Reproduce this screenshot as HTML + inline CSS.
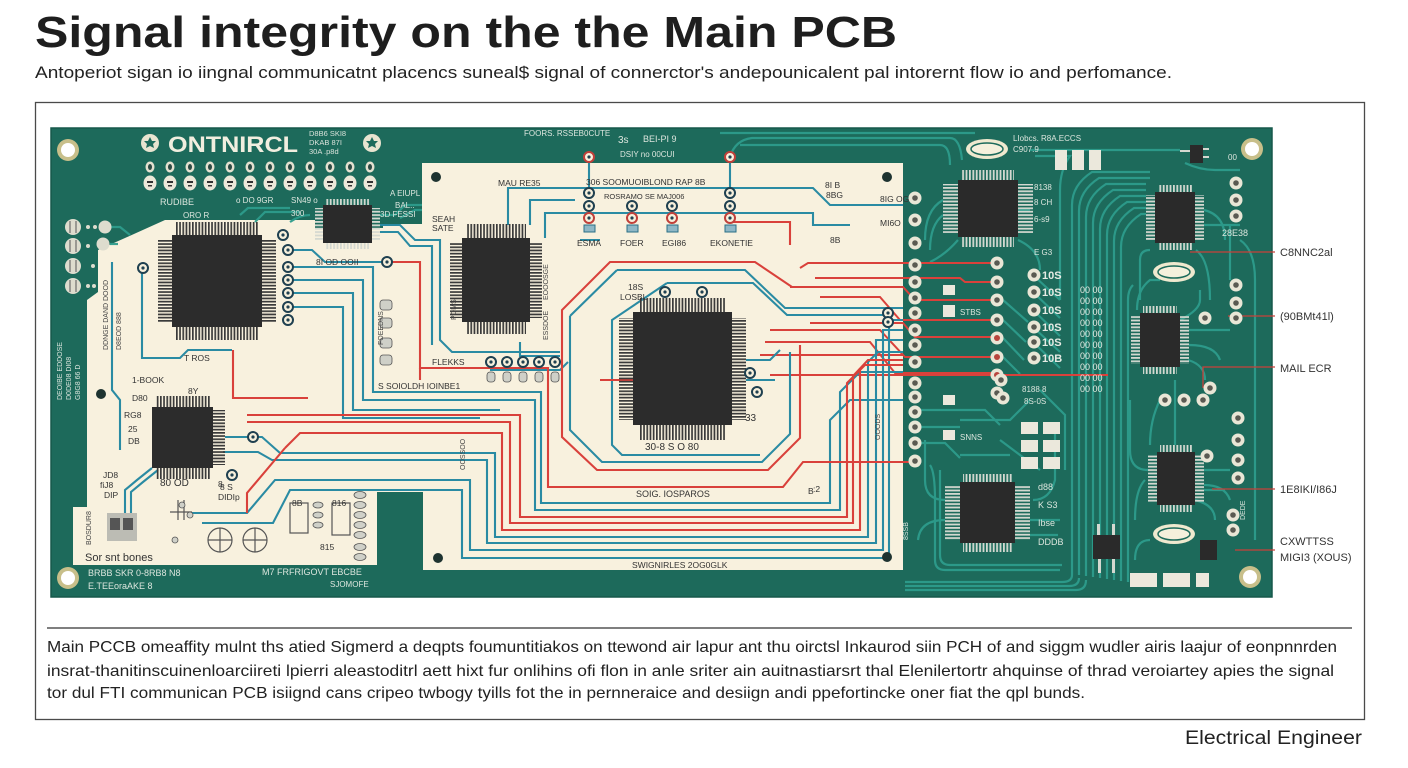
<!DOCTYPE html>
<html><head><meta charset="utf-8"><style>
html,body{margin:0;padding:0;background:#fff;width:1408px;height:768px;overflow:hidden}
svg{display:block}
text{font-family:"Liberation Sans",sans-serif}
</style></head><body>
<svg width="1408" height="768" viewBox="0 0 1408 768" xmlns="http://www.w3.org/2000/svg">
<defs>
<pattern id="pv" width="3.2" height="200" patternUnits="userSpaceOnUse"><rect width="1.7" height="200" fill="#3a3a3a"/></pattern>
<pattern id="ph" width="200" height="3.2" patternUnits="userSpaceOnUse"><rect width="200" height="1.7" fill="#3a3a3a"/></pattern>
<pattern id="lv" width="3.4" height="200" patternUnits="userSpaceOnUse"><rect width="1.8" height="200" fill="#d4d8d0"/></pattern>
<pattern id="lh" width="200" height="3.4" patternUnits="userSpaceOnUse"><rect width="200" height="1.8" fill="#d4d8d0"/></pattern>
<g id="hpS"><ellipse rx="4.5" ry="5.5" fill="#e4e1d0"/><ellipse rx="2" ry="3" fill="#2d4a44"/></g>
<g id="hpB"><ellipse rx="6.5" ry="7.5" fill="#ebe8d8"/><rect x="-3" y="-2" width="6" height="2" fill="#333"/><rect x="-2" y="2" width="4" height="1.5" fill="#333"/></g>
<g id="pad"><circle r="6.5" fill="#e9e6d6"/><circle r="2.8" fill="#5a5a52"/></g>
<g id="padr"><circle r="6.5" fill="#e9e6d6"/><circle r="3" fill="#b8453e"/></g>
<g id="via"><circle r="5" fill="#f7f0dc" stroke="#1f4050" stroke-width="2"/><circle r="1.6" fill="#1f4050"/></g>
<g id="viar"><circle r="5" fill="#f7f0dc" stroke="#c0403a" stroke-width="2"/><circle r="1.6" fill="#1f4050"/></g>
</defs>
<rect width="1408" height="768" fill="#fff"/>

<!-- Title -->
<text x="35" y="47" font-size="44" font-weight="bold" fill="#1e1e1e" textLength="862" lengthAdjust="spacingAndGlyphs">Signal integrity on the the Main PCB</text>
<text x="35" y="78" font-size="17" fill="#222" textLength="1137" lengthAdjust="spacingAndGlyphs">Antoperiot sigan io iingnal communicatnt placencs suneal$ signal of connerctor's andepounicalent pal intorernt flow io and perfomance.</text>

<rect x="35.5" y="102.5" width="1329" height="617" fill="none" stroke="#4a4a4a" stroke-width="1.3"/>

<!-- PCB -->
<rect x="51" y="128" width="1221" height="469" fill="#1d6a5b"/>
<rect x="51" y="128" width="1221" height="469" fill="none" stroke="#16584b" stroke-width="1.5"/>

<!-- cream areas -->
<rect x="422" y="163" width="481" height="407" fill="#f8f1de"/>
<path d="M165,220 L315,220 L315,228 L383,228 L383,224 L422,224 L422,492 L377,492 L377,565 L73,565 L73,507 L87,507 L87,300 L98,292 L98,250 L125,238 Z" fill="#f8f1de"/>
<rect x="377" y="492" width="46" height="80" fill="#1d6a5b"/>

<!-- green area traces -->
<g fill="none" stroke="#2d9c8c" stroke-width="2.2" opacity="0.95">
<path d="M1072,575 V205 Q1072,185 1092,172 H1150"/>
<path d="M1079,575 V211 Q1079,191 1099,178 H1150"/>
<path d="M1086,576 V217 Q1086,197 1106,184 H1146"/>
<path d="M1093,577 V223 Q1093,203 1113,190 H1146"/>
<path d="M1100,578 V229 Q1100,209 1120,196 H1146"/>
<path d="M1107,579 V235 Q1107,215 1127,202 H1146"/>
<path d="M1114,580 V241 Q1114,221 1134,208 H1146"/>
<path d="M1121,581 V247 Q1121,227 1141,214 H1146"/>
<path d="M1128,582 V300 Q1128,290 1133,285"/>
<path d="M1072,575 Q1072,582 1062,582 H905"/>
<path d="M1079,578 Q1079,586 1069,586 H905"/>
<path d="M1086,580 Q1086,590 1076,590 H905"/>
<path d="M1030,150 H1180"/><path d="M1035,156 H1070 Q1060,170 1060,190 V300"/>
<path d="M730,157 Q735,140 752,138 H950 Q960,138 962,160"/>
<path d="M720,133 H975"/><path d="M740,145 H940 Q950,145 950,165"/>
<path d="M1033,275 L1060,300"/><path d="M1033,292 L1060,318"/><path d="M1033,310 L1060,336"/><path d="M1033,327 L1060,352"/><path d="M1033,342 L1060,368"/>
<path d="M943,200 Q925,210 925,240"/><path d="M943,215 Q930,225 930,250"/>
<path d="M1018,240 Q1040,250 1040,270"/>
<path d="M1204,210 Q1225,215 1225,240"/><path d="M1204,225 H1240"/>
<path d="M1189,330 H1230"/><path d="M1189,345 Q1215,345 1220,360"/>
<path d="M1148,470 Q1130,470 1130,450 V400"/><path d="M1204,470 H1230"/><path d="M1204,485 Q1225,485 1230,500"/>
<path d="M945,500 Q925,500 925,480 V440"/><path d="M945,520 Q920,520 918,540"/>
<path d="M1030,520 H1060"/><path d="M1030,535 H1058"/>
<path d="M960,420 H1010 L1030,400"/><path d="M960,455 H1010"/>
<path d="M1150,540 Q1135,540 1135,560"/>
<path d="M1160,400 Q1150,420 1150,445"/><path d="M1175,380 V445"/>
<path d="M1040,390 L1065,415 V470"/><path d="M1000,440 L1040,470"/>
<!-- added -->
<path d="M1003,300 L1028,322"/><path d="M1003,320 L1026,342"/><path d="M1003,338 L1024,360"/><path d="M1003,357 L1020,374"/>
<path d="M921,410 H985 L1000,425"/><path d="M921,427 H960"/><path d="M921,443 H945 L960,458"/>
<path d="M930,465 Q935,472 935,500 V560 Q935,570 945,570 H1060"/>
<path d="M940,470 V555 Q940,565 950,565 H1062"/>
<path d="M1033,500 Q1050,500 1055,480 V430"/>
<path d="M1137,310 Q1137,290 1150,280 H1160"/>
<path d="M1140,300 V260 Q1140,250 1150,250"/>
<path d="M1196,250 Q1210,260 1210,300"/>
<path d="M1188,360 Q1205,365 1205,380"/>
<path d="M1195,500 Q1215,505 1215,520"/>
<path d="M1145,480 Q1135,490 1135,520"/>
<path d="M1204,490 H1225"/>
<path d="M1180,320 Q1200,310 1200,300 V290"/>
<path d="M958,240 Q945,255 930,262"/>
<path d="M1018,210 H1030"/>
<path d="M1230,225 V280"/><path d="M1240,240 Q1255,250 1255,280 V540"/>
<path d="M1185,163 Q1200,170 1215,170 H1240"/>
<path d="M240,215 L248,208 H290"/><path d="M255,222 L265,212 H300"/>
<path d="M290,222 Q300,215 310,215"/>
<path d="M110,227 H120 L130,235"/><path d="M110,244 H118"/>
<path d="M400,218 L415,210 H422"/>
<path d="M380,215 H395 L405,205 H422"/>
</g>

<!-- red lines into green pads -->
<g fill="none" stroke="#d9413b" stroke-width="2">
<path d="M800,268 L808,263 H997"/>
<path d="M815,278 H960 L965,282 H997"/>
<path d="M790,287 H903 L915,300 H997"/>
<path d="M820,297 H880 L900,320 H997"/>
<path d="M810,323 H903 L915,337 H997"/>
<path d="M770,330 H880 L905,357 H997"/>
<path d="M765,342 H870 L895,373 H997"/>
<path d="M760,355 H903"/>
<path d="M770,375 H1108"/>
</g>

<!-- right labels & leaders -->
<g stroke="#c9403a" stroke-width="1.3" fill="none">
<path d="M1190,252 H1275"/><path d="M1228,316 H1275"/><path d="M1203,388 V367 H1275"/><path d="M1212,489 H1275"/><path d="M1235,550 H1275"/>
</g>
<g font-size="11" fill="#333">
<text x="1280" y="256">C8NNC2al</text>
<text x="1280" y="320">(90BMt41l)</text>
<text x="1280" y="372">MAIL ECR</text>
<text x="1280" y="493">1E8IKI/I86J</text>
<text x="1280" y="545">CXWTTSS</text>
<text x="1280" y="561">MIGI3 (XOUS)</text>
</g>

<!-- cream traces: teal -->
<g fill="none" stroke="#2a8ba3" stroke-width="2.1">
<path d="M288,250 H312 L325,262 H387"/>
<path d="M288,267 H373 V392 H541 V503 H830 V420 L850,400 H903"/>
<path d="M288,280 H363 V400 H535 V510 H840 V392 L860,372 H903"/>
<path d="M288,293 H353 V410 H500"/>
<path d="M288,307 H343 V418 H480"/>
<path d="M225,437 H262 L280,453 H495 V537 H868 V362 L878,352 H903"/>
<path d="M223,452 H258 L272,460 H487 V543 H876 V340 H903"/>
<path d="M192,513 H247 L275,480 H470 V550 H883 V330 H903"/>
<path d="M202,523 H273 L290,490 H462 V558 H889 V320 H903"/>
<path d="M142,268 V358 H180 L188,350 H232"/>
<path d="M112,262 V390 L120,400 V450"/>
<path d="M152,468 L137,480 L125,490 V517"/>
<path d="M158,470 L143,482 L131,492 V517"/>
<path d="M380,225 H400 L415,240 H440 V340 L452,352 H560"/>
<path d="M380,232 H398 L410,246 H432 V345"/>
<path d="M508,225 V188 H813 L830,205 H903"/>
<path d="M530,225 V200 H575 "/>
<path d="M545,238 V213 H813 V225 H850"/>
<path d="M520,342 V356 H560"/>
<path d="M589,157 V193"/><path d="M730,157 V193"/>
<path d="M617,270 H745 L785,308 H903"/>
<path d="M570,316 L617,270"/>
<path d="M570,316 V430 L602,462 H762 L790,434 V352"/>
<path d="M667,283 H753 L787,315 H888"/>
<path d="M667,283 L612,320 V445 L622,455 H760"/>
<path d="M746,360 H770 L780,350"/>
<path d="M746,380 H775"/>
<path d="M490,370 H560 L568,362"/>
<path d="M580,240 H600"/>
</g>
<!-- cream traces: red -->
<g fill="none" stroke="#d9413b" stroke-width="2.1">
<path d="M388,262 H420 V368 H548 V487 H783 L803,462 H913"/>
<path d="M247,415 H520 V517 H847 V383 L865,365 H903"/>
<path d="M247,422 H510 V523 H853 V376 L868,360 H903"/>
<path d="M285,448 L300,433 H502 V530 H860 V368"/>
<path d="M233,350 V398 H308"/>
<path d="M285,448 L247,493 V513"/>
<path d="M903,287 H792 L755,262 H610 L562,310 V437 L597,470 H768 L800,438 V345"/>
<path d="M730,217 V222 H790 V245"/>
<path d="M420,368 V380"/>
<path d="M600,380 H633"/>
</g>

<!-- chips on cream -->
<g>
<rect x="176" y="222" width="82" height="13" fill="url(#pv)"/>
<rect x="176" y="327" width="82" height="13" fill="url(#pv)"/>
<rect x="158" y="239" width="14" height="84" fill="url(#ph)"/>
<rect x="262" y="239" width="14" height="84" fill="url(#ph)"/>
<rect x="172" y="235" width="90" height="92" fill="#2c2c2c"/>

<rect x="466" y="224" width="60" height="14" fill="url(#pv)"/>
<rect x="466" y="322" width="60" height="12" fill="url(#pv)"/>
<rect x="450" y="242" width="12" height="76" fill="url(#ph)"/>
<rect x="530" y="242" width="12" height="76" fill="url(#ph)"/>
<rect x="462" y="238" width="68" height="84" fill="#2c2c2c"/>

<rect x="640" y="298" width="86" height="14" fill="url(#pv)"/>
<rect x="640" y="425" width="86" height="15" fill="url(#pv)"/>
<rect x="619" y="318" width="14" height="102" fill="url(#ph)"/>
<rect x="732" y="318" width="14" height="102" fill="url(#ph)"/>
<rect x="633" y="312" width="99" height="113" fill="#2c2c2c"/>

<rect x="156" y="396" width="54" height="11" fill="url(#pv)"/>
<rect x="156" y="468" width="54" height="11" fill="url(#pv)"/>
<rect x="213" y="410" width="12" height="55" fill="url(#ph)"/>
<rect x="152" y="407" width="61" height="61" fill="#2c2c2c"/>
</g>

<!-- chips on green -->
<g>
<rect x="326" y="199" width="43" height="6" fill="url(#lv)"/>
<rect x="326" y="243" width="43" height="6" fill="url(#lv)"/>
<rect x="315" y="208" width="8" height="32" fill="url(#lh)"/>
<rect x="372" y="208" width="8" height="32" fill="url(#lh)"/>
<rect x="323" y="205" width="49" height="38" fill="#2a2a2a"/>

<rect x="962" y="170" width="52" height="10" fill="url(#lv)"/>
<rect x="962" y="237" width="52" height="10" fill="url(#lv)"/>
<rect x="943" y="184" width="15" height="49" fill="url(#lh)"/>
<rect x="1018" y="184" width="15" height="49" fill="url(#lh)"/>
<rect x="958" y="180" width="60" height="57" fill="#2a2a2a"/>

<rect x="1158" y="185" width="34" height="7" fill="url(#lv)"/>
<rect x="1158" y="243" width="34" height="7" fill="url(#lv)"/>
<rect x="1146" y="195" width="9" height="45" fill="url(#lh)"/>
<rect x="1195" y="195" width="9" height="45" fill="url(#lh)"/>
<rect x="1155" y="192" width="40" height="51" fill="#2a2a2a"/>

<rect x="1143" y="306" width="34" height="7" fill="url(#lv)"/>
<rect x="1143" y="367" width="34" height="7" fill="url(#lv)"/>
<rect x="1131" y="316" width="9" height="48" fill="url(#lh)"/>
<rect x="1180" y="316" width="9" height="48" fill="url(#lh)"/>
<rect x="1140" y="313" width="40" height="54" fill="#2a2a2a"/>

<rect x="1160" y="445" width="32" height="7" fill="url(#lv)"/>
<rect x="1160" y="505" width="32" height="7" fill="url(#lv)"/>
<rect x="1148" y="455" width="9" height="47" fill="url(#lh)"/>
<rect x="1195" y="455" width="9" height="47" fill="url(#lh)"/>
<rect x="1157" y="452" width="38" height="53" fill="#2a2a2a"/>

<rect x="963" y="474" width="49" height="8" fill="url(#lv)"/>
<rect x="963" y="543" width="49" height="9" fill="url(#lv)"/>
<rect x="945" y="486" width="15" height="54" fill="url(#lh)"/>
<rect x="1015" y="486" width="15" height="54" fill="url(#lh)"/>
<rect x="960" y="482" width="55" height="61" fill="#2a2a2a"/>

<rect x="1093" y="535" width="27" height="24" fill="#2a2a2a"/>
<rect x="1097" y="524" width="3" height="11" fill="#d4d8d0"/><rect x="1112" y="524" width="3" height="11" fill="#d4d8d0"/>
<rect x="1098" y="559" width="3" height="14" fill="#d4d8d0"/><rect x="1112" y="559" width="3" height="14" fill="#d4d8d0"/>
<rect x="1200" y="540" width="17" height="20" fill="#2a2a2a"/>
<rect x="1190" y="145" width="13" height="18" fill="#2a2a2a"/>
<rect x="1180" y="150" width="10" height="2" fill="#d4d8d0"/><rect x="1203" y="148" width="6" height="2" fill="#d4d8d0"/><rect x="1203" y="156" width="6" height="2" fill="#d4d8d0"/>
</g>

<!-- crystals -->
<g>
<ellipse cx="987" cy="149" rx="21" ry="10" fill="#efe9cf"/><ellipse cx="987" cy="149" rx="16" ry="6" fill="#f5f0dc" stroke="#1d6a5b" stroke-width="1.5"/>
<ellipse cx="1174" cy="272" rx="21" ry="10" fill="#efe9cf"/><ellipse cx="1174" cy="272" rx="16" ry="6" fill="#f5f0dc" stroke="#1d6a5b" stroke-width="1.5"/>
<ellipse cx="1174" cy="534" rx="21" ry="10" fill="#efe9cf"/><ellipse cx="1174" cy="534" rx="16" ry="6" fill="#f5f0dc" stroke="#1d6a5b" stroke-width="1.5"/>
</g>

<!-- mounting holes -->
<g>
<circle cx="68" cy="150" r="11" fill="#c8bf8a"/><circle cx="68" cy="150" r="7" fill="#fff"/>
<circle cx="1252" cy="149" r="11" fill="#c8bf8a"/><circle cx="1252" cy="149" r="7" fill="#fff"/>
<circle cx="68" cy="578" r="11" fill="#c8bf8a"/><circle cx="68" cy="578" r="7" fill="#fff"/>
<circle cx="1250" cy="577" r="11" fill="#c8bf8a"/><circle cx="1250" cy="577" r="7" fill="#fff"/>
</g>
<!-- fiducials -->
<g fill="#1e3330">
<circle cx="436" cy="177" r="5"/><circle cx="887" cy="177" r="5"/><circle cx="101" cy="394" r="5"/><circle cx="438" cy="558" r="5"/><circle cx="887" cy="557" r="5"/>
</g>

<!-- header area -->
<circle cx="150" cy="143" r="9" fill="#e8e4d0"/><path d="M150,137 L152,141 L156,141 L153,144 L154,148 L150,146 L146,148 L147,144 L144,141 L148,141 Z" fill="#1d6a5b"/>
<circle cx="372" cy="143" r="9" fill="#e8e4d0"/><path d="M372,137 L374,141 L378,141 L375,144 L376,148 L372,146 L368,148 L369,144 L366,141 L370,141 Z" fill="#1d6a5b"/>
<text x="168" y="152" font-size="22" font-weight="bold" fill="#f1eedf" textLength="130" lengthAdjust="spacingAndGlyphs">ONTNIRCL</text>
<g font-size="7.5" fill="#d8e2da"><text x="309" y="136">D8B6 SKI8</text><text x="309" y="145">DKAB 87I</text><text x="309" y="154">30A .p8d</text></g>
<g>
<use href="#hpS" x="150" y="167"/><use href="#hpS" x="170" y="167"/><use href="#hpS" x="190" y="167"/><use href="#hpS" x="210" y="167"/><use href="#hpS" x="230" y="167"/><use href="#hpS" x="250" y="167"/><use href="#hpS" x="270" y="167"/><use href="#hpS" x="290" y="167"/><use href="#hpS" x="310" y="167"/><use href="#hpS" x="330" y="167"/><use href="#hpS" x="350" y="167"/><use href="#hpS" x="370" y="167"/>
<use href="#hpB" x="150" y="183"/><use href="#hpB" x="170" y="183"/><use href="#hpB" x="190" y="183"/><use href="#hpB" x="210" y="183"/><use href="#hpB" x="230" y="183"/><use href="#hpB" x="250" y="183"/><use href="#hpB" x="270" y="183"/><use href="#hpB" x="290" y="183"/><use href="#hpB" x="310" y="183"/><use href="#hpB" x="330" y="183"/><use href="#hpB" x="350" y="183"/><use href="#hpB" x="370" y="183"/>
</g>
<!-- left pads -->
<g>
<circle cx="73" cy="227" r="8" fill="#dedcce"/><circle cx="73" cy="246" r="8" fill="#dedcce"/><circle cx="73" cy="266" r="8" fill="#dedcce"/><circle cx="73" cy="286" r="8" fill="#dedcce"/>
<g stroke="#555" stroke-width="1"><path d="M70,221 V233 M76,221 V233 M70,240 V252 M76,240 V252 M70,260 V272 M76,260 V272 M70,280 V292 M76,280 V292"/></g>
<circle cx="105" cy="227" r="6.5" fill="#dedcce"/><circle cx="103" cy="244" r="6.5" fill="#dedcce"/>
<g fill="#dedcce"><circle cx="88" cy="227" r="2"/><circle cx="95" cy="227" r="2"/><circle cx="88" cy="246" r="2"/><circle cx="93" cy="266" r="2"/><circle cx="88" cy="286" r="2"/><circle cx="94" cy="286" r="2"/></g>
</g>

<!-- vias on cream -->
<g>
<use href="#via" x="283" y="235"/><use href="#via" x="288" y="250"/><use href="#via" x="288" y="267"/><use href="#via" x="288" y="280"/><use href="#via" x="288" y="293"/><use href="#via" x="288" y="307"/><use href="#via" x="288" y="320"/>
<use href="#via" x="387" y="262"/><use href="#via" x="143" y="268"/>
<use href="#viar" x="589" y="157"/><use href="#viar" x="730" y="157"/>
<use href="#via" x="589" y="193"/><use href="#via" x="730" y="193"/>
<use href="#via" x="589" y="206"/><use href="#via" x="632" y="206"/><use href="#via" x="672" y="206"/><use href="#via" x="730" y="206"/>
<use href="#viar" x="589" y="218"/><use href="#viar" x="632" y="218"/><use href="#viar" x="672" y="218"/><use href="#viar" x="730" y="218"/>
<use href="#via" x="491" y="362"/><use href="#via" x="507" y="362"/><use href="#via" x="523" y="362"/><use href="#via" x="539" y="362"/><use href="#via" x="555" y="362"/>
<use href="#via" x="665" y="292"/><use href="#via" x="702" y="292"/>
<use href="#via" x="888" y="313"/><use href="#via" x="888" y="322"/>
<use href="#via" x="750" y="373"/><use href="#via" x="757" y="392"/>
<use href="#via" x="232" y="475"/><use href="#via" x="253" y="437"/>
</g>
<g fill="#8fb7c6" stroke="#2a6f86" stroke-width="1">
<rect x="584" y="225" width="11" height="7"/><rect x="627" y="225" width="11" height="7"/><rect x="667" y="225" width="11" height="7"/><rect x="725" y="225" width="11" height="7"/>
</g>
<g fill="#cfd0c8" stroke="#555" stroke-width="0.8">
<rect x="487" y="372" width="8" height="10" rx="3"/><rect x="503" y="372" width="8" height="10" rx="3"/><rect x="519" y="372" width="8" height="10" rx="3"/><rect x="535" y="372" width="8" height="10" rx="3"/><rect x="551" y="372" width="8" height="10" rx="3"/>
<rect x="380" y="300" width="12" height="10" rx="3"/><rect x="380" y="318" width="12" height="10" rx="3"/><rect x="380" y="338" width="12" height="10" rx="3"/><rect x="380" y="355" width="12" height="10" rx="3"/>
</g>

<!-- boundary pad column -->
<g>
<use href="#pad" x="915" y="198"/><use href="#pad" x="915" y="220"/><use href="#pad" x="915" y="243"/><use href="#pad" x="915" y="265"/><use href="#pad" x="915" y="282"/><use href="#pad" x="915" y="298"/><use href="#pad" x="915" y="313"/><use href="#pad" x="915" y="330"/><use href="#pad" x="915" y="345"/><use href="#pad" x="915" y="362"/><use href="#pad" x="915" y="383"/><use href="#pad" x="915" y="397"/><use href="#pad" x="915" y="412"/><use href="#pad" x="915" y="427"/><use href="#pad" x="915" y="443"/><use href="#pad" x="915" y="461"/>
<use href="#pad" x="997" y="263"/><use href="#pad" x="997" y="282"/><use href="#pad" x="997" y="300"/><use href="#pad" x="997" y="320"/><use href="#padr" x="997" y="338"/><use href="#padr" x="997" y="357"/><use href="#padr" x="997" y="375"/><use href="#pad" x="997" y="393"/>
<use href="#pad" x="1034" y="275"/><use href="#pad" x="1034" y="292"/><use href="#pad" x="1034" y="310"/><use href="#pad" x="1034" y="327"/><use href="#pad" x="1034" y="342"/><use href="#pad" x="1034" y="358"/>
<use href="#pad" x="1001" y="380"/><use href="#pad" x="1003" y="398"/><use href="#pad" x="1236" y="183"/><use href="#pad" x="1236" y="200"/><use href="#pad" x="1236" y="216"/>
<use href="#pad" x="1205" y="318"/><use href="#pad" x="1210" y="388"/><use href="#pad" x="1207" y="456"/>
<use href="#pad" x="1165" y="400"/><use href="#pad" x="1184" y="400"/><use href="#pad" x="1203" y="400"/>
<use href="#pad" x="1238" y="418"/><use href="#pad" x="1238" y="440"/><use href="#pad" x="1238" y="460"/><use href="#pad" x="1238" y="478"/>
<use href="#pad" x="1233" y="515"/><use href="#pad" x="1233" y="530"/>
<use href="#pad" x="1236" y="285"/><use href="#pad" x="1236" y="303"/><use href="#pad" x="1236" y="318"/>
</g>
<g font-size="11" font-weight="bold" fill="#e6ebe4">
<text x="1042" y="279">10S</text><text x="1042" y="296">10S</text><text x="1042" y="314">10S</text><text x="1042" y="331">10S</text><text x="1042" y="346">10S</text><text x="1042" y="362">10B</text>
</g>
<g font-size="9" fill="#e6ebe4">
<text x="1080" y="293">00  00</text><text x="1080" y="304">00  00</text><text x="1080" y="315">00  00</text><text x="1080" y="326">00  00</text><text x="1080" y="337">00  00</text><text x="1080" y="348">00  00</text><text x="1080" y="359">00  00</text><text x="1080" y="370">00  00</text><text x="1080" y="381">00  00</text><text x="1080" y="392">00  00</text>
</g>
<!-- white components on green -->
<g fill="#ebe8dc">
<rect x="1055" y="150" width="12" height="20"/><rect x="1072" y="150" width="12" height="20"/><rect x="1089" y="150" width="12" height="20"/>
<rect x="1021" y="422" width="17" height="12"/><rect x="1043" y="422" width="17" height="12"/>
<rect x="1021" y="440" width="17" height="12"/><rect x="1043" y="440" width="17" height="12"/>
<rect x="1021" y="457" width="17" height="12"/><rect x="1043" y="457" width="17" height="12"/>
<rect x="1130" y="573" width="27" height="14"/><rect x="1163" y="573" width="27" height="14"/><rect x="1196" y="573" width="13" height="14"/>
<rect x="943" y="285" width="12" height="10"/><rect x="943" y="305" width="12" height="12"/><rect x="943" y="395" width="12" height="10"/><rect x="943" y="430" width="12" height="10"/>
</g>

<!-- left bottom components -->
<g fill="none" stroke="#555" stroke-width="1.2">
<circle cx="220" cy="540" r="12"/><circle cx="255" cy="540" r="12"/>
<path d="M208,540 H232 M220,528 V552 M243,540 H267 M255,528 V552"/>
<rect x="290" y="503" width="18" height="30"/><rect x="332" y="503" width="18" height="32"/>
<path d="M178,500 V520 M184,500 V520 M170,512 H192"/>
</g>
<rect x="107" y="513" width="30" height="28" fill="#bcbcb4"/><rect x="110" y="518" width="10" height="12" fill="#555"/><rect x="123" y="518" width="10" height="12" fill="#555"/>
<g fill="#cfd0c8" stroke="#555" stroke-width="0.8">
<ellipse cx="360" cy="495" rx="6" ry="3.5"/><ellipse cx="360" cy="505" rx="6" ry="3.5"/><ellipse cx="360" cy="515" rx="6" ry="3.5"/><ellipse cx="360" cy="525" rx="6" ry="3.5"/><ellipse cx="360" cy="535" rx="6" ry="3.5"/><ellipse cx="360" cy="547" rx="6" ry="3.5"/><ellipse cx="360" cy="557" rx="6" ry="3.5"/>
<ellipse cx="318" cy="505" rx="5" ry="3"/><ellipse cx="318" cy="515" rx="5" ry="3"/><ellipse cx="318" cy="525" rx="5" ry="3"/>
<circle cx="182" cy="505" r="3"/><circle cx="190" cy="515" r="3"/><circle cx="175" cy="540" r="3"/>
</g>

<!-- labels on cream -->
<g font-size="8.5" fill="#333">
<text x="498" y="186">MAU RE35</text>
<text x="586" y="185">306 SOOMUOIBLOND RAP 8B</text>
<text x="604" y="199" font-size="7.5">ROSRAMO   SE   MAJ006</text>
<text x="577" y="246">ESMA</text><text x="620" y="246">FOER</text><text x="662" y="246">EGI86</text><text x="710" y="246">EKONETIE</text>
<text x="432" y="222">SEAH</text><text x="432" y="231">SATE</text>
<text x="432" y="365">FLEKKS</text>
<text x="378" y="389">S SOIOLDH IOINBE1</text>
<text x="184" y="361">T ROS</text>
<text x="132" y="383">1-BOOK</text>
<text x="132" y="401">D80</text><text x="188" y="394">8Y</text>
<text x="124" y="418">RG8</text><text x="128" y="432">25</text><text x="128" y="444">DB</text>
<text x="103" y="478">JD8</text><text x="100" y="488">fiJ8</text><text x="104" y="498">DIP</text>
<text x="160" y="486" font-size="10">80  OD</text><text x="218" y="487">8</text>
<text x="220" y="490">8 S</text><text x="218" y="500">DIDIp</text>
<text x="636" y="497" font-size="9">SOIG. IOSPAROS</text>
<text x="632" y="568" font-size="8.5">SWIGNIRLES  2OG0GLK</text>
<text x="645" y="450" font-size="10">30-8 S O 80</text>
<text x="85" y="561" font-size="11">Sor snt bones</text>
<text x="628" y="290">18S</text><text x="620" y="300">LOSBL</text>
<text x="745" y="421" font-size="10">33</text>
<text x="316" y="265">8I OD OOII</text>
<text x="880" y="202">8IG OG</text><text x="880" y="226">MI6O</text><text x="830" y="243">8B</text>
<text x="825" y="188">8I B</text><text x="826" y="198">8BG</text>
<text x="292" y="506">8B</text><text x="332" y="506">816</text><text x="320" y="550">815</text>
<text x="808" y="494">B</text><text x="813" y="492">:2</text>
</g>
<g font-size="7" fill="#444">
<text transform="translate(108,350) rotate(-90)">DDNGE DAND DOOD</text>
<text transform="translate(121,350) rotate(-90)">D8EOD 888</text>
<text transform="translate(383,345) rotate(-90)">FOEEDNS</text>
<text transform="translate(548,300) rotate(-90)">EOOOSGE</text>
<text transform="translate(548,340) rotate(-90)">ESSDOE</text>
<text transform="translate(456,320) rotate(-90)">POMS</text>
<text transform="translate(91,545) rotate(-90)">BOSDUR8</text>
<text transform="translate(465,470) rotate(-90)">OOSSOO</text>
<text transform="translate(880,440) rotate(-90)">OOODS</text>
</g>

<!-- labels on green -->
<g font-size="8" fill="#dce6de">
<text x="524" y="136">FOORS. RSSEB0CUTE</text>
<text x="618" y="143" font-size="10">3s</text><text x="643" y="142" font-size="9">BEI-PI   9</text>
<text x="620" y="157">DSIY no 00CUI</text>
<text x="1013" y="141">LIobcs. R8A.ECCS</text><text x="1013" y="152">C907.9</text>
<text x="160" y="205" font-size="9">RUDIBE</text>
<text x="236" y="203">o  DO 9GR</text>
<text x="291" y="203">SN49 o</text><text x="291" y="216">300</text>
<text x="390" y="196">A EIUPL</text><text x="395" y="208">BAL..</text>
<text x="380" y="217">3D FESSI</text>
<text x="183" y="218">ORO R</text>
<text x="88" y="576" font-size="9">BRBB   SKR 0-8RB8  N8</text>
<text x="88" y="589" font-size="9">E.TEEoraAKE 8</text>
<text x="262" y="575" font-size="9">M7 FRFRIGOVT EBCBE</text>
<text x="330" y="587">SJOMOFE</text>
<text x="1034" y="190">8138</text><text x="1034" y="205">8 CH</text><text x="1034" y="222">6-s9</text><text x="1034" y="255">E G3</text>
<text x="1222" y="236" font-size="9">28E38</text>
<text x="1022" y="392">8188 8</text><text x="1024" y="404">8S-0S</text>
<text x="1038" y="490" font-size="9">d88</text><text x="1038" y="508" font-size="9">K S3</text><text x="1038" y="526" font-size="9">Ibse</text><text x="1038" y="545" font-size="9">DDDB</text>
<text x="960" y="440">SNNS</text><text x="960" y="315">STBS</text>
<text x="1228" y="160">00</text>
</g>
<g font-size="7" fill="#dce6de">
<text transform="translate(62,400) rotate(-90)">DEOIBE EDDOSE</text>
<text transform="translate(71,400) rotate(-90)">D0DE08 DI08</text>
<text transform="translate(80,400) rotate(-90)">G8G8 66 D</text>
<text transform="translate(1245,520) rotate(-90)">DEDE</text>
<text transform="translate(908,540) rotate(-90)">8SSB</text>
</g>

<!-- bottom text -->
<line x1="47" y1="628" x2="1352" y2="628" stroke="#555" stroke-width="1.5"/>
<g font-size="16" fill="#222">
<text x="47" y="652" textLength="1290" lengthAdjust="spacingAndGlyphs">Main PCCB omeaffity mulnt ths atied Sigmerd a deqpts foumuntitiakos on ttewond air lapur ant thu oirctsl Inkaurod siin PCH of and siggm wudler airis laajur of eonpnnrden</text>
<text x="47" y="676" textLength="1287" lengthAdjust="spacingAndGlyphs">insrat-thanitinscuinenloarciireti lpierri aleastoditrl aett hixt fur onlihins ofi flon in anle sriter ain auitnastiarsrt thal Elenilertortr ahquinse of thrad veroiartey apies the signal</text>
<text x="47" y="698" textLength="1038" lengthAdjust="spacingAndGlyphs">tor dul FTI communican PCB isiignd cans cripeo twbogy tyills fot the in pernneraice and desiign andi ppefortincke oner fiat the qpl bunds.</text>
</g>
<text x="1185" y="744" font-size="19" fill="#222" textLength="177" lengthAdjust="spacingAndGlyphs">Electrical Engineer</text>
</svg>
</body></html>
